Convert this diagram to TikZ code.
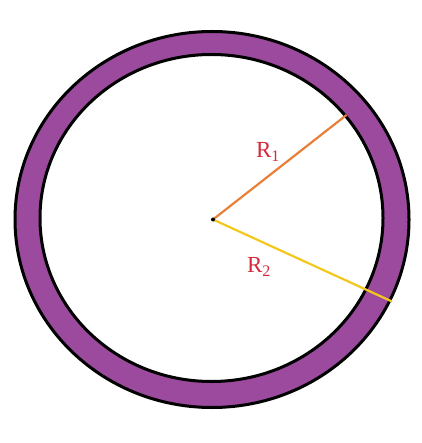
\documentclass[tikz,border=0pt]{standalone}
\usepackage{fontspec}
\setmainfont{Liberation Serif}
\definecolor{ringpurple}{HTML}{9B4A9E}
\definecolor{rorange}{HTML}{E8803A}
\definecolor{ryellow}{HTML}{F2C81E}
\definecolor{labred}{HTML}{D42A3C}
\tikzset{
  ringedge/.style={line width=3pt, draw=black},
  radius1/.style={line width=2.2pt, draw=rorange},
  radius2/.style={line width=2.2pt, draw=ryellow},
  rlabel/.style={text=labred, font=\fontsize{23}{27}\selectfont, inner sep=0pt}
}
\begin{document}
\begin{tikzpicture}[x=1pt,y=-1pt]
\useasboundingbox (0,0) rectangle (421,443);
\fill[white] (0,0) rectangle (421,443);
% ring
\fill[ringpurple, even odd rule] (212,219.5) ellipse [x radius=197, y radius=188]
  (211.5,218) ellipse [x radius=171.5, y radius=163.5];
\draw[ringedge] (212,219.5) ellipse [x radius=197, y radius=188];
\draw[ringedge] (211.5,218) ellipse [x radius=171.5, y radius=163.5];
% radii
\coordinate (c) at (213,219.5);
\coordinate (e1) at (346.5,115);
\coordinate (e2) at (392,301.5);
\draw[radius1] (c) -- (e1);
\draw[radius2] (c) -- (e2);
\fill[black] (c) circle (2pt);
% labels
\node[rlabel] (l1) at (268,152) {R\textsubscript{1}};
\node[rlabel] (l2) at (259,267) {R\textsubscript{2}};
\end{tikzpicture}
\end{document}
